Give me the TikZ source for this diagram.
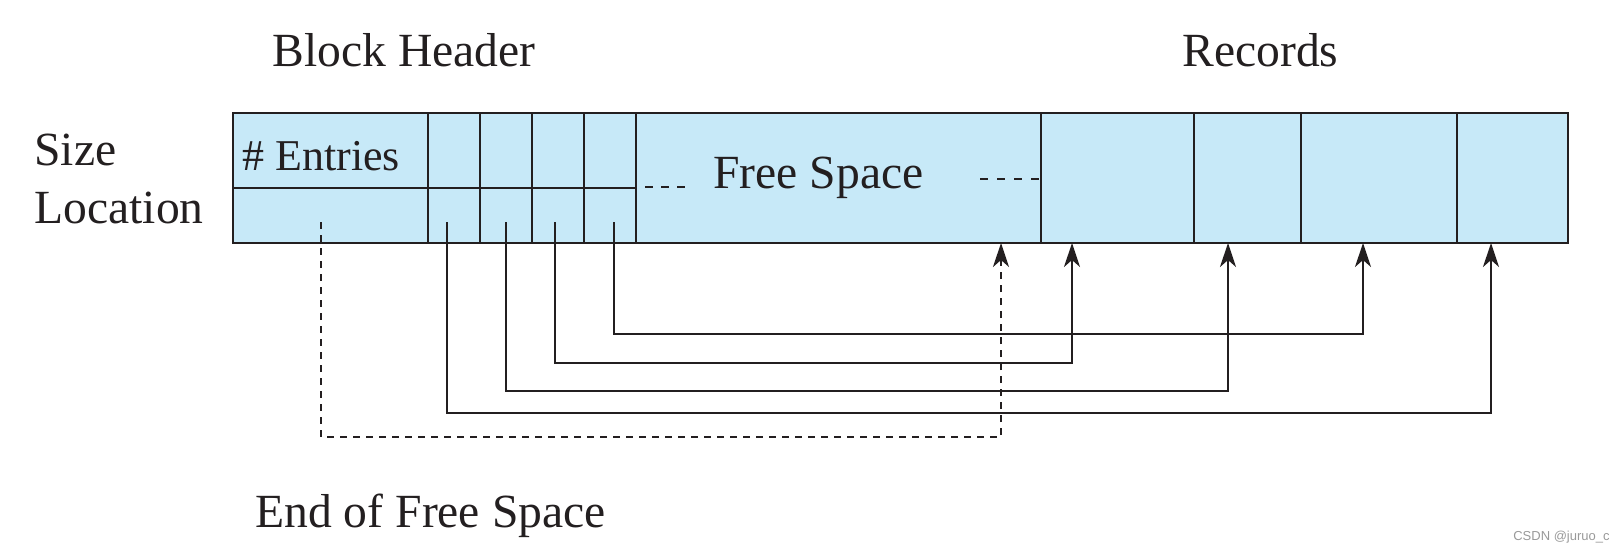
\documentclass[tikz,border=0pt]{standalone}
\usepackage{fontspec}
\setmainfont{Liberation Serif}
\usetikzlibrary{arrows.meta}
\definecolor{cellblue}{RGB}{199,233,248}
\definecolor{ink}{RGB}{35,31,32}
\tikzset{
  cell/.style={draw=ink, fill=cellblue, line width=1.1pt, inner sep=0pt, anchor=north west},
  hdr/.style={minimum width=26pt},
  lbl/.style={inner sep=0pt, anchor=base west, text=ink, font=\fontsize{23.8}{28}\selectfont},
  ptr/.style={draw=ink, line width=1pt, -{Stealth[length=12pt,width=8pt,inset=3.5pt]}},
  dptr/.style={ptr, dash pattern=on 3.5pt off 3pt},
  fdash/.style={draw=ink, line width=1pt}
}
\begin{document}
\begin{tikzpicture}[x=0.5pt,y=-0.5pt]
\useasboundingbox (0,0) rectangle (1622,548);
% cells
\node[cell, minimum width=97.5pt, minimum height=37.5pt] (entT) at (232,112) {};
\node[cell, minimum width=97.5pt, minimum height=27.5pt] (entB) at (232,187) {};
\node[cell, hdr, minimum height=37.5pt] (s1T) at (427,112) {};
\node[cell, hdr, minimum height=37.5pt] (s2T) at (479,112) {};
\node[cell, hdr, minimum height=37.5pt] (s3T) at (531,112) {};
\node[cell, hdr, minimum height=37.5pt] (s4T) at (583,112) {};
\node[cell, hdr, minimum height=27.5pt] (s1B) at (427,187) {};
\node[cell, hdr, minimum height=27.5pt] (s2B) at (479,187) {};
\node[cell, hdr, minimum height=27.5pt] (s3B) at (531,187) {};
\node[cell, hdr, minimum height=27.5pt] (s4B) at (583,187) {};
\node[cell, minimum width=202.5pt, minimum height=65pt] (free) at (635,112) {};
\node[cell, minimum width=76.5pt, minimum height=65pt] (r1) at (1040,112) {};
\node[cell, minimum width=53.5pt, minimum height=65pt] (r2) at (1193,112) {};
\node[cell, minimum width=78pt, minimum height=65pt] (r3) at (1300,112) {};
\node[cell, minimum width=55.5pt, minimum height=65pt] (r4) at (1456,112) {};
% texts
\node[lbl] (bh) at (272,66) {Block Header};
\node[lbl] (rec) at (1182,66) {Records};
\node[lbl] (size) at (34,165) {Size};
\node[lbl] (loc) at (34,223) {Location};
\node[lbl, font=\fontsize{22}{26}\selectfont] (ent) at (242,170) {\# Entries};
\node[lbl] (fs) at (713,188) {Free Space};
\node[lbl] (eofs) at (255,527) {End of Free Space};
% free space dashes
\coordinate (fl1) at (645,187); \coordinate (fl2) at (686,187);
\coordinate (fr1) at (980,179);
\draw[fdash, dash pattern=on 4pt off 4pt] (fl1) -- (fl2);
\draw[fdash, dash pattern=on 4pt off 4.5pt] (fr1) -- (fr1 -| free.east);
% pointer starts
\coordinate (p0) at (321,222);
\coordinate (p1) at (447,222);
\coordinate (p2) at (506,222);
\coordinate (p3) at (555,222);
\coordinate (p4) at (614,222);
% pointer ends
\coordinate (e0) at (1001,243);
\coordinate (e1) at (1491,243);
\coordinate (e2) at (1228,243);
\coordinate (e3) at (1072,243);
\coordinate (e4) at (1363,243);
% turning points
\coordinate (t0) at (1001,437);
\coordinate (t1) at (1491,413);
\coordinate (t2) at (1228,391);
\coordinate (t3) at (1072,363);
\coordinate (t4) at (1363,334);
\draw[ptr] (p1) |- (t1) -- (e1);
\draw[ptr] (p2) |- (t2) -- (e2);
\draw[ptr] (p3) |- (t3) -- (e3);
\draw[ptr] (p4) |- (t4) -- (e4);
\draw[dptr] (p0) |- (t0) -- (e0);
% watermark
\node[inner sep=0pt, anchor=base east, text=gray!80, font=\fontfamily{}\fontsize{6.5}{8}\selectfont] (wm) at (1610,540) {\setmainfont{Liberation Sans}\normalfont CSDN @juruo\_c};
\end{tikzpicture}
\end{document}
